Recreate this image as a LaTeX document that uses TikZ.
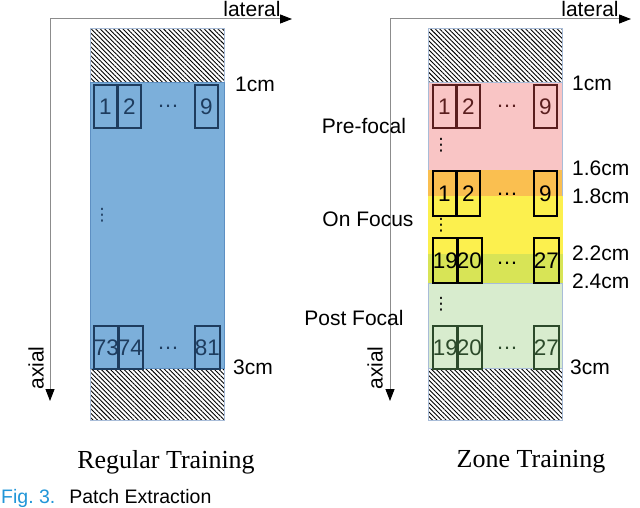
\documentclass[tikz,border=0pt]{standalone}
\usepackage{fontspec}
\setmainfont{Liberation Sans}
\newfontfamily\capserif{Liberation Serif}
\newfontfamily\symfont{DejaVu Sans}
\usetikzlibrary{arrows.meta,patterns.meta}
\definecolor{axisgray}{HTML}{8C8C8C}
\definecolor{bluefill}{HTML}{7CAFDA}
\definecolor{blueedge}{HTML}{5D8FC2}
\definecolor{bluepatch}{HTML}{1E3C5E}
\definecolor{pinkfill}{HTML}{F9C5C5}
\definecolor{orangefill}{HTML}{FABF50}
\definecolor{yellowfill}{HTML}{FCF04E}
\definecolor{ygfill}{HTML}{D8E456}
\definecolor{greenfill}{HTML}{D8ECCE}
\definecolor{redpatch}{HTML}{5A1E1E}
\definecolor{greenpatch}{HTML}{2C4A2A}
\definecolor{hatchedge}{HTML}{A8BCD8}
\definecolor{figblue}{HTML}{2196D8}
\tikzset{
  axisline/.style={draw=axisgray, line width=1pt, -{Triangle[length=12pt,width=9pt,color=black]}},
  hatchbox/.style={draw=hatchedge, line width=0.6pt, anchor=north west, inner sep=0pt, minimum width=134pt,
     pattern={Lines[angle=-45,distance=3.2pt,line width=0.9pt]}},
  band/.style={anchor=north west, inner sep=0pt, minimum width=134pt, line width=0.6pt},
  patch/.style={draw, line width=1.8pt, anchor=north west, inner sep=0pt, minimum width=23pt,
     font=\fontsize{22.5}{22.5}\selectfont},
  hdots/.style={font=\fontsize{22}{22}\selectfont, inner sep=0pt},
  vdotsnode/.style={font=\symfont\fontsize{17}{17}\selectfont, inner sep=0pt},
  lbl/.style={font=\fontsize{21}{21}\selectfont, inner sep=0pt},
  captext/.style={font=\capserif\fontsize{26}{26}\selectfont, inner sep=0pt}
}
\begin{document}
\begin{tikzpicture}[x=1pt,y=-1pt]
\useasboundingbox (0,0) rectangle (640,508);
\fill[white] (0,0) rectangle (640,508);

% ===== Left panel: Regular Training =====
\node[hatchbox, minimum height=392pt] (hatchL) at (90,28) {};
\node[band, draw=blueedge, fill=bluefill, minimum height=286pt] (blueR) at (90,82) {};

\node[patch, draw=bluepatch, text=bluepatch, minimum height=43pt] (L1) at (93,84) {1};
\node[patch, draw=bluepatch, text=bluepatch, minimum height=43pt] (L2) at (117,84) {2};
\node[hdots, text=bluepatch] (Ldots1) at (168,106) {…};
\node[patch, draw=bluepatch, text=bluepatch, minimum height=43pt] (L9) at (194,84) {9};
\node[vdotsnode, text=bluepatch] (Lvd) at (102,215) {⋮};
\node[patch, draw=bluepatch, text=bluepatch, minimum height=43pt] (L73) at (93,325) {73};
\node[patch, draw=bluepatch, text=bluepatch, minimum height=43pt] (L74) at (117,325) {74};
\node[hdots, text=bluepatch] (Ldots2) at (168,348) {…};
\node[patch, draw=bluepatch, text=bluepatch, minimum height=43pt] (L81) at (194,325) {81};

\node[lbl, anchor=west] (L1cm) at (235,84) {1cm};
\node[lbl, anchor=west] (L3cm) at (233,367) {3cm};

\coordinate (Lorig) at (50,19);
\coordinate (Llat) at (292,19);
\coordinate (Lax) at (50,401);
\draw[axisline] (Lorig) -- (Llat);
\draw[axisline] (Lorig) -- (Lax);
\node[lbl, anchor=south] (Llatlbl) at (252,17) {lateral};
\node[lbl, rotate=90] (Laxlbl) at (36,368) {axial};

\node[captext] (capL) at (166,462) {Regular Training};

% ===== Right panel: Zone Training =====
\node[hatchbox, minimum height=392pt] (hatchR) at (428,28) {};
\node[band, draw=hatchedge, fill=pinkfill, minimum height=88pt] (pre) at (428,82) {};
\node[band, fill=orangefill, minimum height=26pt] (ov1) at (428,170) {};
\node[band, fill=yellowfill, minimum height=58pt, minimum width=135pt] (onf) at (428,196) {};
\node[band, fill=ygfill, minimum height=29pt, minimum width=135pt] (ov2) at (428,254) {};
\node[band, draw=hatchedge, fill=greenfill, minimum height=85pt] (post) at (428,283) {};

\node[patch, draw=redpatch, text=redpatch, minimum height=43pt] (P1) at (432,84) {1};
\node[patch, draw=redpatch, text=redpatch, minimum height=43pt] (P2) at (456,84) {2};
\node[hdots, text=redpatch] (Pdots) at (507,106) {…};
\node[patch, draw=redpatch, text=redpatch, minimum height=43pt] (P9) at (533,84) {9};
\node[vdotsnode, text=black] (Pvd) at (441,145) {⋮};

\node[patch, draw=black, text=black, minimum height=45pt] (F1) at (432,170) {1};
\node[patch, draw=black, text=black, minimum height=45pt] (F2) at (456,170) {2};
\node[hdots] (Fdots1) at (507,194) {…};
\node[patch, draw=black, text=black, minimum height=45pt] (F9) at (533,170) {9};
\node[vdotsnode] (Fvd) at (441,225) {⋮};
\node[patch, draw=black, text=black, minimum height=45pt] (F19) at (432,237) {19};
\node[patch, draw=black, text=black, minimum height=45pt] (F20) at (456,237) {20};
\node[hdots] (Fdots2) at (507,263) {…};
\node[patch, draw=black, text=black, minimum height=45pt] (F27) at (533,237) {27};

\node[vdotsnode] (Gvd) at (441,304) {⋮};
\node[patch, draw=greenpatch, text=greenpatch, minimum height=43pt] (G19) at (432,325) {19};
\node[patch, draw=greenpatch, text=greenpatch, minimum height=43pt] (G20) at (456,325) {20};
\node[hdots, text=greenpatch] (Gdots) at (507,348) {…};
\node[patch, draw=greenpatch, text=greenpatch, minimum height=43pt] (G27) at (533,325) {27};

\node[lbl, anchor=west] (R1cm) at (572,83) {1cm};
\node[lbl, anchor=west] (R16cm) at (572,168) {1.6cm};
\node[lbl, anchor=west] (R18cm) at (572,196) {1.8cm};
\node[lbl, anchor=west] (R22cm) at (572,253) {2.2cm};
\node[lbl, anchor=west] (R24cm) at (572,281) {2.4cm};
\node[lbl, anchor=west] (R3cm) at (570,367) {3cm};

\coordinate (Rorig) at (390,19);
\coordinate (Rlat) at (631,19);
\coordinate (Rax) at (390,401);
\draw[axisline] (Rorig) -- (Rlat);
\draw[axisline] (Rorig) -- (Rax);
\node[lbl, anchor=south] (Rlatlbl) at (590,17) {lateral};
\node[lbl, rotate=90] (Raxlbl) at (375,368) {axial};

\node[lbl] (prelbl) at (364,126) {Pre-focal};
\node[lbl] (onlbl) at (368,219) {On Focus};
\node[lbl] (postlbl) at (354,318) {Post Focal};

\node[captext] (capR) at (531,462) {Zone Training};

% ===== Figure caption (at bottom edge) =====
\node[anchor=base west, inner sep=0pt, font=\fontsize{19.5}{19.5}\selectfont] (figcap) at (1,503)
  {{\color{figblue}Fig.~3.}\hspace{14pt}Patch Extraction};
\end{tikzpicture}
\end{document}
